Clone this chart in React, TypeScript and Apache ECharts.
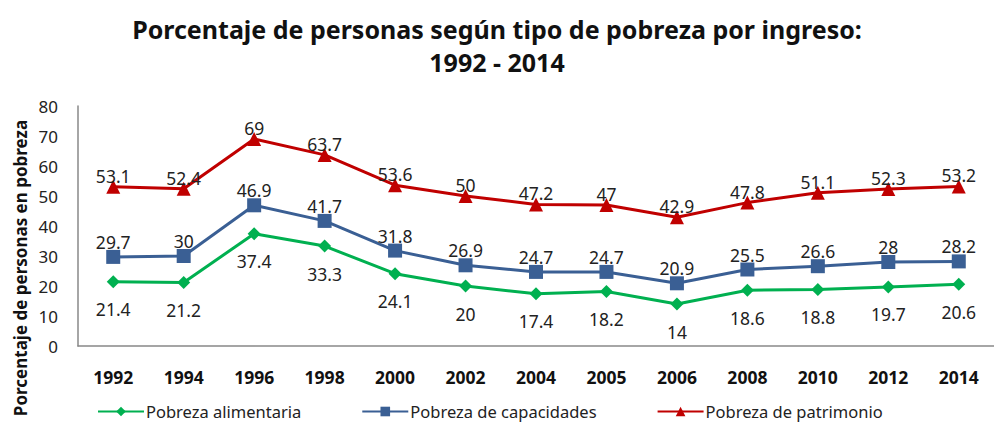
import React, { useEffect, useRef } from "react";
import * as echarts from "echarts";

const years = ["1992", "1994", "1996", "1998", "2000", "2002", "2004", "2005", "2006", "2008", "2010", "2012", "2014"];
const alimentaria = [21.4, 21.2, 37.4, 33.3, 24.1, 20, 17.4, 18.2, 14, 18.6, 18.8, 19.7, 20.6];
const capacidades = [29.7, 30, 46.9, 41.7, 31.8, 26.9, 24.7, 24.7, 20.9, 25.5, 26.6, 28, 28.2];
const patrimonio = [53.1, 52.4, 69, 63.7, 53.6, 50, 47.2, 47, 42.9, 47.8, 51.1, 52.3, 53.2];
const yTicks = { min: 0, max: 80, interval: 10 };

const FONT = "'Noto Sans', 'Open Sans', sans-serif";

export default function App() {
  const ref = useRef<HTMLDivElement>(null);
  useEffect(() => {
    if (!ref.current) return;
    const chart = echarts.init(ref.current, undefined, { renderer: "svg" });
    const labelStyle = { fontSize: 17.5, color: "#222", fontFamily: FONT };
    chart.setOption({
      animation: false,
      backgroundColor: "#fff",
      title: {
        text: "Porcentaje de personas según tipo de pobreza por ingreso:\n1992 - 2014",
        left: "center",
        top: 7,
        textStyle: { fontSize: 25, fontWeight: "bold", color: "#111", lineHeight: 33, fontFamily: FONT },
      },
      grid: { left: 78, top: 106, width: 918, height: 240 },
      xAxis: {
        type: "category",
        data: years,
        boundaryGap: true,
        axisLine: { lineStyle: { color: "#888", width: 1.5 } },
        axisTick: { show: false },
        axisLabel: { fontSize: 17.5, fontWeight: "bold", color: "#111", margin: 22, fontFamily: FONT },
      },
      yAxis: {
        type: "value",
        min: yTicks.min,
        max: yTicks.max,
        interval: yTicks.interval,
        axisLine: { show: true, lineStyle: { color: "#888", width: 1.5 } },
        axisTick: { show: false },
        splitLine: { show: false },
        axisLabel: { fontSize: 17, color: "#222", margin: 20, fontFamily: FONT },
      },
      legend: {
        top: 403,
        left: 97,
        itemGap: 60,
        itemWidth: 46,
        itemHeight: 12,
        padding: 0,
        textStyle: { fontSize: 16.5, color: "#222", fontFamily: FONT, padding: [0, 0, 0, -3] },
        data: ["Pobreza alimentaria", "Pobreza de capacidades", "Pobreza de patrimonio"],
      },
      graphic: [
        {
          type: "text",
          x: 20,
          y: 268,
          rotation: Math.PI / 2,
          style: {
            text: "Porcentaje de personas en pobreza",
            fontSize: 17,
            fontWeight: "bold",
            fill: "#111",
            fontFamily: FONT,
            align: "center",
            verticalAlign: "middle",
          },
        },
      ],
      series: [
        {
          name: "Pobreza alimentaria",
          type: "line",
          data: alimentaria,
          color: "#00B050",
          symbol: "diamond",
          symbolSize: 13,
          lineStyle: { width: 3 },
          label: { show: true, position: "bottom", distance: 12, ...labelStyle },
        },
        {
          name: "Pobreza de capacidades",
          type: "line",
          data: capacidades,
          color: "#3A5F94",
          symbol: "rect",
          symbolSize: 14,
          lineStyle: { width: 3 },
          label: { show: true, position: "top", distance: -1, ...labelStyle },
        },
        {
          name: "Pobreza de patrimonio",
          type: "line",
          data: patrimonio,
          color: "#C00000",
          symbol: "triangle",
          symbolSize: 14,
          lineStyle: { width: 3 },
          label: { show: true, position: "top", distance: -5, ...labelStyle },
        },
      ],
    });
    return () => chart.dispose();
  }, []);
  return (
    <div
      ref={ref}
      style={{ position: "fixed", left: 0, top: 0, width: 994, height: 426 }}
    />
  );
}
